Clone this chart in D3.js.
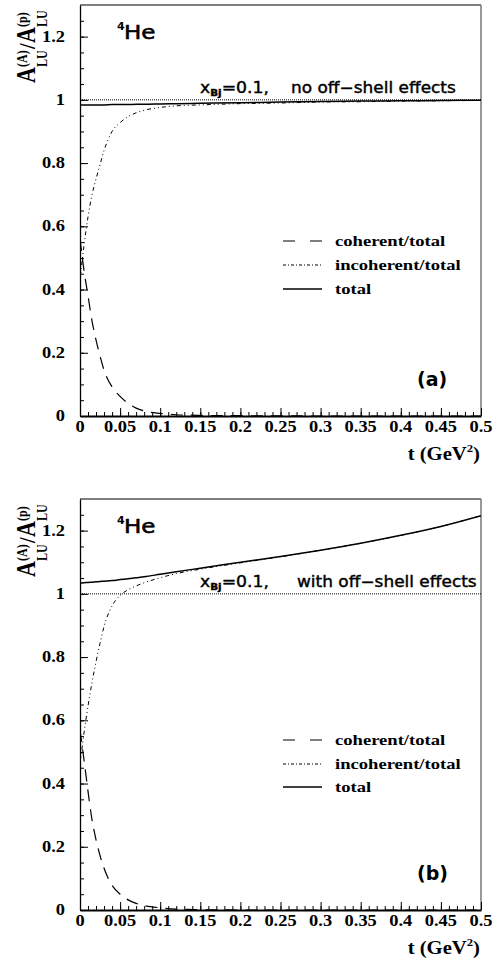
<!DOCTYPE html>
<html>
<head>
<meta charset="utf-8">
<script src="https://cdn.jsdelivr.net/npm/d3@7"></script>
<style>
  body { margin: 0; background: #fff; }
  svg { display: block; }
</style>
</head>
<body>
<div id="chart"></div>
<script>
// t values (GeV^2) shared by all curves
const tGrid = [0, 0.005, 0.01, 0.015, 0.02, 0.025, 0.03, 0.04, 0.05, 0.06, 0.07, 0.08,
               0.1, 0.12, 0.15, 0.2, 0.25, 0.3, 0.35, 0.4, 0.45, 0.5];

// Panel (a): no off-shell effects
const cohA = [0.56, 0.46, 0.38, 0.30, 0.24, 0.19, 0.145, 0.092, 0.062, 0.040, 0.025, 0.016,
              0.008, 0.004, 0.002, 0.001, 0.0005, 0, 0, 0, 0, 0];
const incA = [0.43, 0.54, 0.63, 0.70, 0.75, 0.795, 0.84, 0.90, 0.928, 0.947, 0.959, 0.967,
              0.976, 0.981, 0.984, 0.988, 0.990, 0.993, 0.994, 0.996, 0.997, 0.998];
const totA = [0.984, 0.984, 0.984, 0.984, 0.984, 0.984, 0.984, 0.985, 0.985, 0.985, 0.986, 0.986,
              0.987, 0.988, 0.989, 0.991, 0.993, 0.995, 0.996, 0.997, 0.998, 0.999];

// Panel (b): with off-shell effects
const cohB = [0.57, 0.475, 0.375, 0.285, 0.222, 0.172, 0.132, 0.078, 0.050, 0.032, 0.021, 0.014,
              0.007, 0.003, 0.001, 0, 0, 0, 0, 0, 0, 0];
const incB = [0.46, 0.56, 0.645, 0.72, 0.785, 0.844, 0.897, 0.962, 0.995, 1.013, 1.025, 1.035,
              1.051, 1.064, 1.078, 1.098, 1.117, 1.138, 1.160, 1.185, 1.213, 1.247];
const totB = [1.034, 1.035, 1.036, 1.037, 1.038, 1.039, 1.040, 1.042, 1.045, 1.048, 1.051, 1.054,
              1.062, 1.070, 1.081, 1.100, 1.118, 1.138, 1.160, 1.185, 1.213, 1.247];

// Ticks and labels
const xTicks = [0, 0.05, 0.1, 0.15, 0.2, 0.25, 0.3, 0.35, 0.4, 0.45, 0.5];
const xTickLabels = ['0', '0.05', '0.1', '0.15', '0.2', '0.25', '0.3', '0.35', '0.4', '0.45', '0.5'];
const yTicks = [0, 0.2, 0.4, 0.6, 0.8, 1, 1.2];
const yTickLabels = ['0', '0.2', '0.4', '0.6', '0.8', '1', '1.2'];
const legendLabels = ['coherent/total', 'incoherent/total', 'total'];
const panelNotes = ['no off\u2212shell effects', 'with off\u2212shell effects'];
const panelTags = ['(a)', '(b)'];

const width = 495;
const height = 965;
const serif = '"Liberation Serif", "Times New Roman", serif';
const sans = '"DejaVu Sans", Verdana, sans-serif';

const svg = d3.select('#chart')
    .append('svg')
    .attr('width', width)
    .attr('height', height);

svg.append('rect').attr('width', width).attr('height', height).attr('fill', '#fff');

// text helper: the original fonts are rendered a bit wider than normal
function label(g, x, y, str, size, opts = {}) {
    const t = g.append('text')
        .attr('transform', `translate(${x},${y}) scale(${opts.sx || 1.2},1)`)
        .attr('text-anchor', opts.anchor || 'start')
        .attr('font-family', opts.family || serif)
        .attr('font-weight', opts.weight || 'bold')
        .attr('font-size', size)
        .attr('fill', '#000')
        .text(str);
    if (opts.heavy) t.attr('stroke', '#000').attr('stroke-width', opts.heavy);
    return t;
}

const styles = [
    { dash: '12,8', legendDash: '12,15', width: 1.2 },
    { dash: '4,3,1,3,1,3', legendDash: '3,2,1,2', width: 1 },
    { dash: null, legendDash: null, width: 1.5 }
];

const panels = [
    { top: 5, bottom: 416, series: [cohA, incA, totA], note: panelNotes[0], tag: panelTags[0], legendY: [241, 265, 289] },
    { top: 499, bottom: 910, series: [cohB, incB, totB], note: panelNotes[1], tag: panelTags[1], legendY: [740, 764, 787] }
];

const left = 80;
const right = 481;

panels.forEach((p, pi) => {
    const x = d3.scaleLinear().domain([0, 0.5]).range([left, right]);
    const y = d3.scaleLinear().domain([0, 1.3]).range([p.bottom, p.top]);
    const g = svg.append('g');

    const clipId = `clip${pi}`;
    svg.append('clipPath').attr('id', clipId)
        .append('rect')
        .attr('x', left).attr('y', p.top)
        .attr('width', right - left).attr('height', p.bottom - p.top);

    // frame: top and right edges
    g.append('line')
        .attr('x1', left).attr('x2', right).attr('y1', p.top).attr('y2', p.top)
        .attr('stroke', '#000').attr('stroke-width', 1);
    g.append('line')
        .attr('x1', right).attr('x2', right).attr('y1', p.top).attr('y2', p.bottom)
        .attr('stroke', '#777').attr('stroke-width', 1.5);

    // y axis ticks (inside)
    g.append('g')
        .attr('transform', `translate(${left},0)`)
        .call(d3.axisLeft(y).tickValues(d3.range(0, 1.3, 0.05)).tickSize(-4).tickFormat(''))
        .call(s => s.select('.domain').remove());
    g.append('g')
        .attr('transform', `translate(${left},0)`)
        .call(d3.axisLeft(y).tickValues(yTicks).tickSize(-8).tickFormat('').tickSizeOuter(0))
        .call(s => s.select('.domain').attr('stroke-width', 1.3));

    // x axis ticks (inside)
    g.append('g')
        .attr('transform', `translate(0,${p.bottom})`)
        .call(d3.axisBottom(x).tickValues(d3.range(0, 0.501, 0.01)).tickSize(-4).tickFormat(''))
        .call(s => s.select('.domain').remove());
    g.append('g')
        .attr('transform', `translate(0,${p.bottom})`)
        .call(d3.axisBottom(x).tickValues(xTicks).tickSize(-8).tickFormat('').tickSizeOuter(0))
        .call(s => s.select('.domain').attr('stroke-width', 2));
    g.selectAll('.tick line').attr('stroke', '#000');

    // tick labels
    yTicks.forEach((v, i) => label(g, left - 15, y(v) + 5, yTickLabels[i], 16, { anchor: 'end', sx: 1.15 }));
    xTicks.forEach((v, i) => label(g, x(v), p.bottom + 16, xTickLabels[i], 16, { anchor: 'middle', sx: 1.15 }));

    // x axis title
    const xt = label(g, 480, p.bottom + 44, 't (GeV', 18, { anchor: 'end', sx: 1.15 });
    xt.append('tspan').attr('font-size', 11).attr('dy', -8).text('2');
    xt.append('tspan').attr('font-size', 18).attr('dy', 8).text(')');

    // y axis title, rotated
    const yt = g.append('g')
        .attr('transform', `translate(35,${p.top + 78}) rotate(-90) scale(1,1.2)`)
        .attr('font-family', serif).attr('font-weight', 'bold').attr('fill', '#000');
    yt.append('text').attr('x', 0).attr('y', 0).attr('font-size', 22).text('A');
    yt.append('text').attr('x', 16).attr('y', -7).attr('font-size', 12).text('(A)');
    yt.append('text').attr('x', 16).attr('y', 10).attr('font-size', 12).text('LU');
    yt.append('text').attr('x', 34).attr('y', 0).attr('font-size', 20).text('/');
    yt.append('text').attr('x', 40).attr('y', 0).attr('font-size', 22).text('A');
    yt.append('text').attr('x', 56).attr('y', -7).attr('font-size', 12).text('(p)');
    yt.append('text').attr('x', 56).attr('y', 10).attr('font-size', 12).text('LU');

    // reference line at 1
    g.append('line')
        .attr('x1', left).attr('x2', right).attr('y1', y(1)).attr('y2', y(1))
        .attr('stroke', '#000').attr('stroke-width', 1).attr('stroke-dasharray', '1,1');

    // curves
    const line = d3.line()
        .x((d, i) => x(tGrid[i]))
        .y(d => y(d))
        .curve(d3.curveMonotoneX);
    p.series.forEach((vals, si) => {
        g.append('path')
            .datum(vals)
            .attr('clip-path', `url(#${clipId})`)
            .attr('fill', 'none')
            .attr('stroke', '#000')
            .attr('stroke-width', styles[si].width)
            .attr('stroke-dasharray', styles[si].dash)
            .attr('d', line);
    });

    // legend
    legendLabels.forEach((name, i) => {
        const ly = p.legendY[i];
        g.append('line')
            .attr('x1', 283).attr('x2', 322).attr('y1', ly).attr('y2', ly)
            .attr('stroke', '#000')
            .attr('stroke-width', styles[i].width)
            .attr('stroke-dasharray', styles[i].legendDash);
        label(g, 335, ly + 5, name, 15.5);
    });

    // annotations
    label(g, 117, p.top + 25, '4', 11, { family: sans, sx: 1 });
    label(g, 124, p.top + 34, 'He', 20, { family: sans, weight: 'normal', sx: 1.15, heavy: 0.6 });
    const xb = label(g, 200, y(1) - 7, 'x', 15, { family: sans, weight: 'normal', sx: 1.15, heavy: 0.4 });
    xb.append('tspan').attr('font-size', 9).attr('font-weight', 'bold').attr('dy', 3).text('Bj');
    xb.append('tspan').attr('font-size', 15).attr('dy', -3).text('=0.1,');
    label(g, pi === 0 ? 291 : 297, y(1) - 7, p.note, 15, { family: sans, weight: 'normal', sx: 1.13, heavy: 0.4 });
    label(g, 417, p.bottom - 30, p.tag, 19, { family: sans, sx: 1 });
});
</script>
</body>
</html>
